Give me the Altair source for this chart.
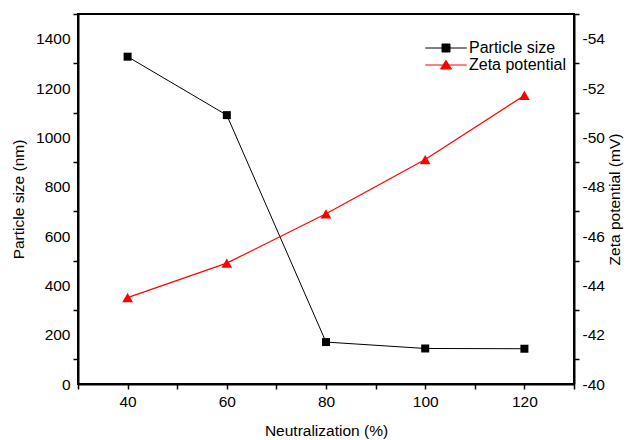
import altair as alt
import pandas as pd

neutralization = [40, 60, 80, 100, 120]
particle_size = [1327, 1090, 170, 144, 143]
zeta_potential = [-43.5, -44.9, -46.9, -49.1, -51.7]
series_names = ["Particle size", "Zeta potential"]
series_colors = ["black", "red"]

FONT = "Liberation Sans"
FS = 15.5

df = pd.DataFrame({"x": neutralization, "size": particle_size, "zeta": zeta_potential})
legend_df = pd.DataFrame({"series": series_names})

x_enc = alt.X(
    "x:Q",
    scale=alt.Scale(domain=[30, 130], nice=False, zero=False),
    axis=alt.Axis(
        values=list(range(30, 131, 10)),
        labelExpr="datum.value % 20 == 0 && datum.value >= 40 && datum.value <= 120 ? datum.label : ''",
        title="Neutralization (%)",
        titlePadding=14,
        labelPadding=5,
    ),
)

y_left = alt.Y(
    "size:Q",
    scale=alt.Scale(domain=[0, 1500], nice=False, zero=False),
    axis=alt.Axis(
        values=list(range(0, 1501, 100)),
        format="d",
        labelExpr="datum.value % 200 == 0 ? datum.label : ''",
        tickOpacity=alt.condition("datum.value % 200 == 0", alt.value(0), alt.value(1)),
        title="Particle size (nm)",
        titlePadding=9,
        labelPadding=3,
    ),
)

y_right = alt.Y(
    "zeta:Q",
    scale=alt.Scale(domain=[-55, -40], nice=False, zero=False, reverse=True),
    axis=alt.Axis(
        orient="right",
        values=list(range(-40, -56, -1)),
        labelExpr="abs(datum.value) % 2 == 0 ? '-' + format(abs(datum.value), 'd') : ''",
        tickOpacity=alt.condition("abs(datum.value) % 2 == 0", alt.value(0), alt.value(1)),
        labelOverlap=False,
        title="Zeta potential (mV)",
        titleAngle=270,
        titleBaseline="top",
        titlePadding=3,
        labelPadding=3,
    ),
)

base = alt.Chart(df)

line_p = base.mark_line(color="black", strokeWidth=1).encode(x=x_enc, y=y_left)
pts_p = base.mark_point(filled=True, shape="square", size=64, color="black", opacity=1).encode(x=x_enc, y=y_left)

# legend glyphs: a line segment through the marker (path units scaled by sqrt(size)/2)
square_path = "M-4.6,0H4.6M-0.89,-0.89H0.89V0.89H-0.89Z"
tri_path = "M-4.6,0H4.6M0,-1.04L1.22,0.89H-1.22Z"

legend_props = dict(
    title=None,
    orient="none",
    legendX=360,
    legendY=26,
    symbolSize=81,
    symbolStrokeWidth=1,
    rowPadding=1,
    labelFont=FONT,
    labelFontSize=16,
    labelColor="black",
    labelOffset=15,
    padding=0,
)

legend_layer = (
    alt.Chart(legend_df)
    .mark_point(filled=True, opacity=1, size=81, strokeWidth=1)
    .encode(
        shape=alt.Shape(
            "series:N",
            scale=alt.Scale(domain=series_names, range=[square_path, tri_path]),
            legend=alt.Legend(**legend_props),
        ),
        color=alt.Color(
            "series:N",
            scale=alt.Scale(domain=series_names, range=series_colors),
            legend=alt.Legend(**legend_props),
        ),
        stroke=alt.Stroke(
            "series:N",
            scale=alt.Scale(domain=series_names, range=series_colors),
            legend=alt.Legend(**legend_props),
        ),
    )
    .transform_filter("false")
)

line_z = base.mark_line(color="red", strokeWidth=1.2).encode(x=x_enc, y=y_right)
pts_z = base.mark_point(filled=True, shape="triangle-up", size=115, color="red", opacity=1).encode(x=x_enc, y=y_right)

left = alt.layer(line_p, pts_p, legend_layer)
right = alt.layer(line_z, pts_z)

chart = (
    alt.layer(left, right)
    .resolve_scale(y="independent")
    .properties(
        width=496,
        height=370,
        autosize=alt.AutoSizeParams(type="none"),
        padding={"left": 78, "top": 14, "right": 55, "bottom": 56},
        background="white",
    )
    .configure_view(stroke="black", strokeWidth=2)
    .configure_axis(
        grid=False,
        labelFont=FONT,
        labelFontSize=FS,
        labelColor="black",
        titleFont=FONT,
        titleFontSize=FS,
        titleFontWeight="normal",
        titleColor="black",
        domainColor="black",
        domainWidth=2,
        tickColor="black",
        tickWidth=1.5,
        tickSize=5,
        labelFlush=False,
        labelOverlap=False,
    )
)

chart.save("out.html", embed_options={"renderer": "svg", "actions": False})
